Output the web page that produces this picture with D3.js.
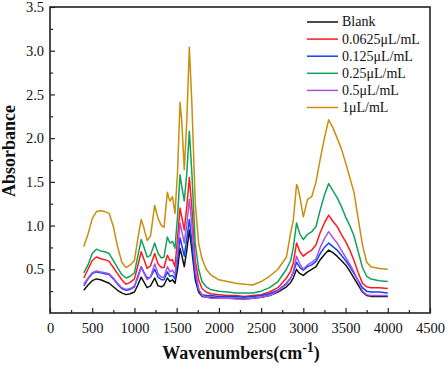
<!DOCTYPE html>
<html>
<head>
<meta charset="utf-8">
<script src="https://cdn.jsdelivr.net/npm/d3@7"></script>
<style>
  body { margin: 0; background: #fff; }
  text { font-family: "Liberation Serif", "Times New Roman", serif; }
</style>
</head>
<body>
<div id="okvir"></div>
<script>
// wavenumbers (cm-1) shared by all spectra
const valniBroj = [400, 450, 500, 550, 600, 650, 700, 750, 800, 850, 900, 950, 1000, 1040, 1080, 1110, 1150, 1190, 1240, 1280, 1320, 1350, 1390, 1420, 1450, 1480, 1510, 1540, 1560, 1590, 1620, 1650, 1680, 1720, 1760, 1800, 1850, 1900, 2000, 2100, 2200, 2300, 2400, 2500, 2600, 2700, 2800, 2850, 2880, 2920, 2940, 2960, 3000, 3050, 3100, 3150, 3200, 3250, 3300, 3350, 3400, 3450, 3500, 3550, 3600, 3650, 3700, 3750, 3800, 3900, 4000]

const blank = [0.26, 0.32, 0.37, 0.39, 0.38, 0.36, 0.34, 0.30, 0.26, 0.23, 0.21, 0.22, 0.24, 0.32, 0.41, 0.36, 0.29, 0.31, 0.40, 0.31, 0.30, 0.32, 0.40, 0.36, 0.38, 0.34, 0.50, 0.74, 0.66, 0.53, 0.72, 0.95, 0.72, 0.38, 0.24, 0.19, 0.18, 0.18, 0.17, 0.17, 0.17, 0.16, 0.17, 0.18, 0.20, 0.24, 0.30, 0.35, 0.40, 0.50, 0.47, 0.45, 0.43, 0.47, 0.50, 0.53, 0.61, 0.67, 0.72, 0.69, 0.65, 0.60, 0.55, 0.48, 0.40, 0.32, 0.24, 0.20, 0.19, 0.19, 0.19]
const c00625 = [0.40, 0.50, 0.60, 0.64, 0.62, 0.61, 0.59, 0.52, 0.45, 0.38, 0.33, 0.35, 0.39, 0.54, 0.70, 0.62, 0.51, 0.54, 0.68, 0.56, 0.52, 0.52, 0.66, 0.60, 0.61, 0.53, 0.85, 1.20, 1.10, 0.95, 1.22, 1.55, 1.20, 0.60, 0.38, 0.28, 0.24, 0.22, 0.21, 0.20, 0.20, 0.19, 0.20, 0.21, 0.24, 0.29, 0.40, 0.48, 0.57, 0.80, 0.75, 0.70, 0.65, 0.69, 0.72, 0.78, 0.92, 1.03, 1.12, 1.05, 0.99, 0.90, 0.82, 0.72, 0.60, 0.46, 0.34, 0.30, 0.29, 0.29, 0.28]
const c0125 = [0.31, 0.39, 0.45, 0.47, 0.46, 0.45, 0.44, 0.39, 0.33, 0.28, 0.26, 0.27, 0.30, 0.42, 0.53, 0.47, 0.40, 0.41, 0.50, 0.41, 0.38, 0.38, 0.47, 0.42, 0.43, 0.39, 0.60, 0.86, 0.78, 0.65, 0.85, 1.07, 0.82, 0.42, 0.26, 0.21, 0.20, 0.20, 0.19, 0.19, 0.19, 0.18, 0.19, 0.20, 0.22, 0.26, 0.34, 0.40, 0.46, 0.58, 0.55, 0.52, 0.49, 0.53, 0.55, 0.59, 0.68, 0.75, 0.80, 0.76, 0.72, 0.66, 0.60, 0.53, 0.45, 0.37, 0.29, 0.25, 0.24, 0.24, 0.23]
const c025 = [0.46, 0.55, 0.68, 0.73, 0.71, 0.70, 0.68, 0.60, 0.52, 0.44, 0.40, 0.42, 0.46, 0.65, 0.84, 0.76, 0.64, 0.66, 0.80, 0.68, 0.63, 0.64, 0.87, 0.80, 0.82, 0.74, 1.10, 1.58, 1.45, 1.28, 1.60, 2.08, 1.60, 0.80, 0.50, 0.36, 0.30, 0.27, 0.25, 0.24, 0.23, 0.23, 0.23, 0.25, 0.29, 0.36, 0.50, 0.60, 0.74, 1.03, 0.96, 0.90, 0.84, 0.90, 0.93, 0.99, 1.18, 1.35, 1.48, 1.40, 1.32, 1.22, 1.10, 1.00, 0.88, 0.70, 0.52, 0.42, 0.39, 0.37, 0.36]
const c05 = [0.33, 0.40, 0.46, 0.48, 0.47, 0.46, 0.45, 0.40, 0.34, 0.29, 0.27, 0.28, 0.31, 0.40, 0.52, 0.46, 0.38, 0.41, 0.56, 0.45, 0.41, 0.41, 0.53, 0.47, 0.49, 0.44, 0.70, 1.03, 0.94, 0.80, 1.02, 1.30, 1.00, 0.50, 0.28, 0.20, 0.18, 0.17, 0.17, 0.17, 0.16, 0.16, 0.17, 0.18, 0.20, 0.25, 0.33, 0.40, 0.47, 0.65, 0.60, 0.56, 0.50, 0.55, 0.58, 0.62, 0.75, 0.85, 0.93, 0.86, 0.80, 0.72, 0.64, 0.56, 0.47, 0.36, 0.25, 0.21, 0.20, 0.20, 0.20]
const c1 = [0.76, 0.90, 1.08, 1.16, 1.17, 1.16, 1.14, 0.99, 0.76, 0.58, 0.52, 0.55, 0.60, 0.85, 1.07, 0.98, 0.83, 0.88, 1.23, 1.08, 1.00, 0.98, 1.38, 1.28, 1.33, 1.14, 1.60, 2.41, 2.20, 1.64, 2.20, 3.04, 2.40, 1.26, 0.80, 0.62, 0.50, 0.44, 0.38, 0.36, 0.34, 0.33, 0.32, 0.36, 0.42, 0.50, 0.64, 0.92, 1.05, 1.47, 1.42, 1.32, 1.10, 1.30, 1.33, 1.50, 1.76, 2.00, 2.21, 2.12, 2.00, 1.88, 1.72, 1.55, 1.38, 1.08, 0.78, 0.58, 0.53, 0.51, 0.50]

const nazivi = ["Blank", "0.0625μL/mL", "0.125μL/mL", "0.25μL/mL", "0.5μL/mL", "1μL/mL"]
const boje = ["#111111", "#ff1a1a", "#1040ff", "#13a05a", "#a552e6", "#c98e0c"]
const serije = [blank, c00625, c0125, c025, c05, c1]

const xTicks = [0, 500, 1000, 1500, 2000, 2500, 3000, 3500, 4000, 4500]
const yTicks = [0.5, 1.0, 1.5, 2.0, 2.5, 3.0, 3.5]

const font = "'Liberation Serif', 'Times New Roman', serif"

const dimenzije = {
  sirina: 447,
  visina: 367,
  margine: { top: 7, right: 17, bottom: 54, left: 50 },
}
dimenzije.grSirina = dimenzije.sirina - dimenzije.margine.left - dimenzije.margine.right
dimenzije.grVisina = dimenzije.visina - dimenzije.margine.top - dimenzije.margine.bottom

const okvir = d3.select("#okvir")
  .append("svg")
  .attr("width", dimenzije.sirina)
  .attr("height", dimenzije.visina)
  .style("display", "block")

okvir.append("rect").attr("width", dimenzije.sirina).attr("height", dimenzije.visina).attr("fill", "#fff")

const granice = okvir.append("g")
  .attr("transform", `translate(${dimenzije.margine.left},${dimenzije.margine.top})`)

const xSkala = d3.scaleLinear().domain([0, 4500]).range([0, dimenzije.grSirina])
const ySkala = d3.scaleLinear().domain([0, 3.5]).range([dimenzije.grVisina, 0])

// spectra
const linija = d3.line()
  .x((d, i) => xSkala(valniBroj[i]))
  .y(d => ySkala(d))

serije.forEach((s, i) => {
  granice.append("path")
    .datum(s)
    .attr("d", linija)
    .attr("fill", "none")
    .attr("stroke", boje[i])
    .attr("stroke-width", 1.5)
    .attr("stroke-linejoin", "round")
})

// axes, ticks pointing inward
granice.append("g")
  .attr("transform", `translate(0,${dimenzije.grVisina})`)
  .attr("font-family", font)
  .call(d3.axisBottom(xSkala).tickValues(xTicks).tickSize(-5).tickPadding(10).tickFormat(d3.format("d")))
granice.append("g")
  .attr("transform", `translate(0,${dimenzije.grVisina})`)
  .call(d3.axisBottom(xSkala).tickValues(d3.range(250, 4500, 500)).tickSize(-3).tickFormat(""))

granice.append("g")
  .attr("font-family", font)
  .call(d3.axisLeft(ySkala).tickValues(yTicks).tickSize(-5).tickPadding(6).tickFormat(d3.format(".1f")))
granice.append("g")
  .call(d3.axisLeft(ySkala).tickValues(d3.range(0.25, 3.5, 0.5)).tickSize(-3).tickFormat(""))

granice.selectAll(".domain").remove()
granice.selectAll(".tick line").attr("stroke", "#222").attr("stroke-width", 1.2)
granice.selectAll(".tick text")
  .attr("fill", "#111")
  .style("font-size", "14.5px")
  .style("font-family", font)

// frame
granice.append("rect")
  .attr("width", dimenzije.grSirina)
  .attr("height", dimenzije.grVisina)
  .attr("fill", "none")
  .attr("stroke", "#222")
  .attr("stroke-width", 1.6)

// axis titles
okvir.append("text")
  .attr("transform", "translate(15,151) rotate(-90)")
  .attr("text-anchor", "middle")
  .style("font-size", "18px")
  .style("font-weight", "bold")
  .attr("fill", "#111")
  .text("Absorbance")

const xOsOznaka = okvir.append("text")
  .attr("x", 241)
  .attr("y", 359)
  .attr("text-anchor", "middle")
  .style("font-size", "18px")
  .style("font-weight", "bold")
  .attr("fill", "#111")
xOsOznaka.append("tspan").text("Wavenumbers(cm")
xOsOznaka.append("tspan").attr("dy", -7).style("font-size", "14px").text("-1")
xOsOznaka.append("tspan").attr("dy", 7).text(")")

// legend
const legenda = okvir.append("g").attr("transform", "translate(307,22)")
nazivi.forEach((n, i) => {
  const red = legenda.append("g").attr("transform", `translate(0,${i * 17.1})`)
  red.append("line")
    .attr("x1", 0).attr("x2", 31)
    .attr("stroke", boje[i]).attr("stroke-width", 1.5)
  red.append("text")
    .attr("x", 35).attr("dy", "0.32em")
    .style("font-size", "14px")
    .attr("fill", "#111")
    .text(n)
})
</script>
</body>
</html>
